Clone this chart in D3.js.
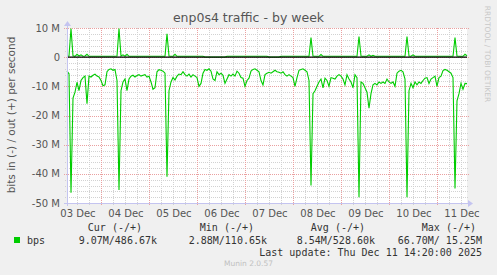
<!DOCTYPE html>
<html>
<head>
<meta charset="utf-8">
<script src="https://cdn.jsdelivr.net/npm/d3@7"></script>
<style>
  body { margin: 0; background: #f0f0f0; }
  svg { display: block; }
  text { font-family: "DejaVu Sans", sans-serif; }
  .mono { font-family: "DejaVu Sans Mono", monospace; }
</style>
</head>
<body>
<div id="chart"></div>
<script>
// hourly samples, starting 03 Dec 07:00, values in Mbit/s
const startTime = new Date(2025, 11, 3, 7, 0);
const endTime = new Date(2025, 11, 11, 15, 0);

const inBps = [
  4.8, 5.7, 46.5, 14, 12, 8.6, 11.5, 8.0, 7.0, 6.5,
  16, 6.5, 6.8, 6.2, 5.8, 6.5, 6.8, 8.0, 9.8, 9.5,
  5.0, 4.2, 4.0, 4.5, 4.2, 8.0, 45.5, 11.5, 8.5, 7.5,
  11.5, 7.5, 6.5, 6.2, 6.8, 6.3, 6.0, 6.5, 6.2, 6.0,
  6.8, 6.5, 8.5, 11.0, 10.5, 5.0, 4.3, 4.5, 4.8, 5.5,
  41, 11.5, 8.5, 7.0, 7.8, 6.5, 5.8, 6.0, 5.0, 6.0,
  6.5, 5.8, 6.8, 6.0, 6.5, 7.0, 10.0, 9.0, 5.5, 4.2,
  4.5, 4.0, 4.8, 7.5, 8.0, 5.0, 6.0, 5.5, 6.2, 9.0,
  7.5, 6.0, 6.5, 5.8, 6.5, 4.8, 5.5, 7.0, 7.2, 10.0,
  8.0, 7.2, 4.8, 4.2, 4.0, 4.5, 5.0, 8.0, 9.5, 6.0,
  5.5, 5.2, 5.5, 5.0, 4.5, 5.0, 5.2, 5.5, 5.0, 6.0,
  6.5, 6.0, 6.5, 7.0, 10.0, 7.0, 4.5, 4.2, 4.0, 4.5,
  5.0, 8.0, 44, 12.5, 11.5, 10.0, 8.5, 7.5, 10.5, 7.2,
  8.0, 10.0, 7.0, 7.2, 7.5, 6.5, 6.0, 6.5, 7.5, 9.5,
  6.0, 7.5, 8.5, 10.5, 6.0, 7.0, 48, 8.5, 9.0, 10.5,
  12.0, 17.5, 12.5, 9.5, 9.0, 9.5, 8.5, 9.0, 8.5, 9.0,
  7.5, 8.5, 9.0, 8.5, 10.0, 5.5, 4.8, 4.5, 5.0, 7.5,
  48, 11.5, 9.0, 10.5, 8.5, 9.5, 8.5, 9.0, 8.0, 7.2,
  7.0, 9.0, 7.5, 7.0, 6.5, 10.0, 7.0, 6.5, 4.6, 4.2,
  4.5, 5.0, 5.5, 7.0, 45, 15.0, 12.5, 9.0, 11.0, 9.0,
  9.07
];

const outBps = [
  0.3, 0.4, 9.8, 0.5, 0.3, 1.0, 0.4, 0.8, 0.3, 0.4,
  1.0, 0.3, 0.3, 0.3, 0.3, 0.3, 0.3, 0.3, 0.3, 0.3,
  0.3, 0.3, 0.3, 0.3, 0.3, 0.4, 9.8, 0.4, 0.8, 0.3,
  1.0, 0.3, 0.3, 0.3, 0.3, 0.3, 0.3, 0.3, 0.3, 0.3,
  0.3, 0.3, 0.3, 0.3, 0.3, 0.3, 0.3, 0.3, 0.3, 0.3,
  8.0, 0.4, 0.3, 0.3, 1.0, 0.3, 0.3, 0.3, 0.3, 0.3,
  0.3, 0.3, 0.3, 0.3, 0.3, 0.3, 0.3, 0.3, 0.3, 0.05,
  0.05, 0.05, 0.05, 0.05, 0.05, 0.05, 0.05, 0.05, 0.05, 0.05,
  0.3, 0.3, 0.3, 0.3, 0.3, 0.3, 0.3, 0.3, 0.3, 0.3,
  0.3, 0.3, 0.3, 0.3, 0.3, 0.3, 0.3, 0.3, 0.3, 0.3,
  0.3, 0.05, 0.05, 0.05, 0.05, 0.05, 0.05, 0.3, 0.3, 0.3,
  0.3, 0.3, 0.3, 0.3, 0.3, 0.3, 0.3, 0.3, 0.3, 0.3,
  0.3, 0.3, 6.7, 0.4, 0.3, 0.3, 0.3, 0.9, 0.3, 0.3,
  0.3, 0.3, 0.3, 0.3, 0.3, 0.3, 0.3, 0.3, 0.3, 0.3,
  0.3, 0.3, 0.3, 0.3, 0.3, 0.3, 7.1, 0.4, 0.3, 0.3,
  0.3, 0.8, 0.3, 0.6, 0.3, 0.3, 0.3, 0.3, 0.3, 0.3,
  0.3, 0.3, 0.3, 0.3, 0.3, 0.3, 0.3, 0.3, 0.3, 0.3,
  7.1, 0.4, 0.3, 0.8, 0.3, 0.3, 0.3, 0.3, 0.3, 0.3,
  0.3, 0.3, 0.3, 0.3, 0.3, 0.3, 0.3, 0.3, 0.3, 0.3,
  0.3, 0.3, 0.3, 0.3, 6.7, 0.4, 0.3, 0.3, 0.3, 1.0,
  0.49
];

const yTickValues = [10, 0, -10, -20, -30, -40, -50];
const dayLabels = ["03 Dec", "04 Dec", "05 Dec", "06 Dec", "07 Dec", "08 Dec", "09 Dec", "10 Dec", "11 Dec"];

const legendHeaders = ["Cur (-/+)", "Min (-/+)", "Avg (-/+)", "Max (-/+)"];
const legendValues = ["9.07M/486.67k", "2.88M/110.65k", "8.54M/528.60k", "66.70M/ 15.25M"];
const seriesName = "bps";
const lastUpdate = "Last update: Thu Dec 11 14:20:00 2025";

const width = 497, height = 275;
const plot = { left: 67, right: 467, top: 28, bottom: 203 };
const green = "#00cc00";

const svg = d3.select("#chart").append("svg")
    .attr("width", width)
    .attr("height", height);

svg.append("rect").attr("width", width).attr("height", height).attr("fill", "#f0f0f0");
svg.append("rect")
    .attr("x", plot.left).attr("y", plot.top)
    .attr("width", plot.right - plot.left).attr("height", plot.bottom - plot.top)
    .attr("fill", "#fff");

const xScale = d3.scaleTime().domain([startTime, endTime]).range([plot.left, plot.right]);
const yScale = d3.scaleLinear().domain([-50, 10]).range([plot.bottom, plot.top]);

const times = inBps.map((d, i) => d3.timeHour.offset(startTime, i));

// grid
const grid = svg.append("g").attr("shape-rendering", "crispEdges");
const minorY = yScale.ticks(30).filter(v => v % 10 !== 0);
grid.selectAll(".hminor").data(minorY).join("line")
    .attr("x1", plot.left - 2).attr("x2", plot.right + 2)
    .attr("y1", d => Math.round(yScale(d)) + 0.5).attr("y2", d => Math.round(yScale(d)) + 0.5)
    .attr("stroke", "#d2d2d2").attr("stroke-dasharray", "1,1");

const sixHours = d3.timeHour.every(6).range(startTime, endTime).filter(d => d.getHours() !== 0);
grid.selectAll(".vminor").data(sixHours).join("line")
    .attr("x1", d => Math.round(xScale(d)) + 0.5).attr("x2", d => Math.round(xScale(d)) + 0.5)
    .attr("y1", plot.top).attr("y2", plot.bottom + 2)
    .attr("stroke", "#d2d2d2").attr("stroke-dasharray", "1,1");

grid.selectAll(".hmajor").data(yTickValues).join("line")
    .attr("x1", plot.left - 3).attr("x2", plot.right + 2)
    .attr("y1", d => Math.round(yScale(d)) + 0.5).attr("y2", d => Math.round(yScale(d)) + 0.5)
    .attr("stroke", "#eaa0a0").attr("stroke-dasharray", "1,1");

const midnights = d3.timeDay.range(d3.timeDay.ceil(startTime), endTime);
grid.selectAll(".vmajor").data(midnights).join("line")
    .attr("x1", d => Math.round(xScale(d)) + 0.5).attr("x2", d => Math.round(xScale(d)) + 0.5)
    .attr("y1", plot.top).attr("y2", plot.bottom + 3)
    .attr("stroke", "#eaa0a0").attr("stroke-dasharray", "1,1");

const line = d3.line().x((d, i) => xScale(times[i]));

svg.append("path")
    .datum(inBps)
    .attr("d", line.y(d => yScale(-d)))
    .attr("fill", "none").attr("stroke", green).attr("stroke-width", 1.1);

svg.append("path")
    .datum(outBps)
    .attr("d", line.y(d => yScale(d)))
    .attr("fill", "none").attr("stroke", green).attr("stroke-width", 1.1);

// zero line on top of the traffic lines
svg.append("line")
    .attr("x1", plot.left).attr("x2", plot.right)
    .attr("y1", yScale(0)).attr("y2", yScale(0))
    .attr("stroke", "#000").attr("stroke-width", 1.2);

// axis lines with arrows
const axisColor = "#c4c4f0";
svg.append("line")
    .attr("x1", plot.left + 0.5).attr("x2", plot.left + 0.5)
    .attr("y1", plot.bottom + 3).attr("y2", plot.top - 4)
    .attr("stroke", axisColor);
svg.append("path")
    .attr("d", `M${plot.left - 3},${plot.top - 2} L${plot.left + 0.5},${plot.top - 7} L${plot.left + 4},${plot.top - 2} Z`)
    .attr("fill", axisColor);
svg.append("line")
    .attr("x1", plot.left - 3).attr("x2", plot.right + 3)
    .attr("y1", plot.bottom + 0.5).attr("y2", plot.bottom + 0.5)
    .attr("stroke", axisColor);
svg.append("path")
    .attr("d", `M${plot.right + 1},${plot.bottom - 3} L${plot.right + 6},${plot.bottom + 0.5} L${plot.right + 1},${plot.bottom + 4} Z`)
    .attr("fill", axisColor);

// tick labels
svg.append("g").selectAll("text").data(yTickValues).join("text")
    .attr("x", 60).attr("y", d => yScale(d) + 3.5)
    .attr("text-anchor", "end")
    .attr("font-size", 10).attr("fill", "#555")
    .text(d => d === 0 ? "0" : `${d} M`);

// day labels sit under noon of each day
const labelDays = d3.timeDay.range(d3.timeDay.floor(startTime), endTime);
svg.append("g").selectAll("text").data(labelDays).join("text")
    .attr("x", d => xScale(d3.timeHour.offset(d, 12)) + 1)
    .attr("y", 217)
    .attr("text-anchor", "middle")
    .attr("font-size", 10).attr("fill", "#555")
    .text((d, i) => dayLabels[i]);

// titles
svg.append("text")
    .attr("x", width / 2).attr("y", 22)
    .attr("text-anchor", "middle")
    .attr("font-size", 12.5).attr("fill", "#555")
    .text("enp0s4 traffic - by week");

svg.append("text")
    .attr("transform", "translate(15,115) rotate(-90)")
    .attr("text-anchor", "middle")
    .attr("font-size", 10.5).attr("fill", "#555")
    .text("bits in (-) / out (+) per second");

svg.append("text")
    .attr("transform", "translate(485,54) rotate(90)")
    .attr("text-anchor", "middle")
    .attr("font-size", 7.5).attr("fill", "#c8c8c8")
    .text("RRDTOOL / TOBI OETIKER");

// legend
const headerEnds = [142, 254, 365, 476];
const valueEnds = [157, 267, 375, 482];

svg.append("g").selectAll("text").data(legendHeaders).join("text")
    .attr("class", "mono")
    .attr("x", (d, i) => headerEnds[i]).attr("y", 231)
    .attr("text-anchor", "end").attr("font-size", 10).attr("fill", "#333")
    .style("white-space", "pre")
    .text(d => d);

svg.append("rect")
    .attr("x", 14).attr("y", 237).attr("width", 6).attr("height", 6)
    .attr("fill", green);
svg.append("text")
    .attr("class", "mono")
    .attr("x", 27).attr("y", 244)
    .attr("font-size", 10).attr("fill", "#333")
    .text(seriesName);

svg.append("g").selectAll("text").data(legendValues).join("text")
    .attr("class", "mono")
    .attr("x", (d, i) => valueEnds[i]).attr("y", 244)
    .attr("text-anchor", "end").attr("font-size", 10).attr("fill", "#333")
    .style("white-space", "pre")
    .text(d => d);

svg.append("text")
    .attr("class", "mono")
    .attr("x", 482).attr("y", 256)
    .attr("text-anchor", "end").attr("font-size", 10).attr("fill", "#333")
    .text(lastUpdate);

svg.append("text")
    .attr("x", width / 2).attr("y", 266)
    .attr("text-anchor", "middle")
    .attr("font-size", 7.5).attr("fill", "#c0c0c0")
    .text("Munin 2.0.57");
</script>
</body>
</html>
